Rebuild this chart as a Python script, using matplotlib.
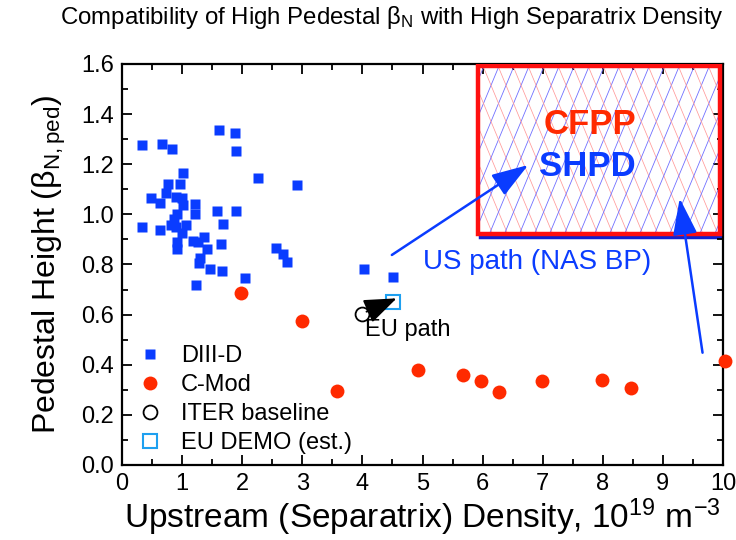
import numpy as np
import matplotlib.pyplot as plt
from matplotlib.patches import Rectangle

plt.rcParams['font.family'] = ['Liberation Sans', 'DejaVu Sans']
plt.rcParams['mathtext.fontset'] = 'custom'
plt.rcParams['mathtext.rm'] = 'Liberation Sans'
plt.rcParams['mathtext.it'] = 'Liberation Sans'
plt.rcParams['mathtext.default'] = 'regular'

# DIII-D data
d3d_x = [0.34, 0.67, 0.83, 1.61, 1.88, 1.89, 1.01, 2.26, 2.91, 0.77, 0.96, 0.74,
         0.48, 0.63, 0.89, 1.00, 1.02, 1.22, 1.21, 1.58, 1.89, 0.91, 0.87, 0.33,
         0.64, 0.82, 0.89, 1.07, 0.99, 1.68, 0.92, 0.92, 1.18, 1.26, 1.37, 1.41,
         1.64, 1.30, 1.28, 1.46, 1.66, 1.23, 2.04, 2.57, 2.68, 2.75, 4.02, 4.51]
d3d_y = [1.275, 1.28, 1.262, 1.338, 1.326, 1.254, 1.165, 1.146, 1.118, 1.121, 1.122, 1.087,
         1.067, 1.044, 1.071, 1.067, 1.037, 1.04, 1.0, 1.012, 1.012, 1.0, 0.982, 0.95,
         0.939, 0.958, 0.951, 0.959, 0.927, 0.962, 0.891, 0.863, 0.893, 0.889, 0.911, 0.861,
         0.883, 0.827, 0.807, 0.781, 0.774, 0.72, 0.747, 0.867, 0.843, 0.81, 0.781, 0.751]

# C-Mod data
cmod_x = [1.98, 3.0, 3.58, 4.92, 5.67, 5.98, 6.28, 6.99, 7.99, 8.47, 10.03]
cmod_y = [0.686, 0.575, 0.295, 0.379, 0.359, 0.336, 0.29, 0.336, 0.338, 0.309, 0.416]

iter_x, iter_y = [3.99], [0.601]
demo_x, demo_y = [4.51], [0.652]

# target region (CFPP / SHPD)
box_x0, box_x1 = 5.92, 9.95
box_y0, box_y1 = 0.92, 1.59

blue = '#0a3cff'
red = '#ff2a00'

fig = plt.figure(figsize=(7.36, 5.4), dpi=100)
ax = fig.add_axes([0.1658, 0.1389, 0.8165, 0.7426])

# box with shadow and hatching
shadow = Rectangle((box_x0 + 0.035, box_y0 - 0.01), box_x1 - box_x0, box_y1 - box_y0,
                   fill=False, edgecolor='#1020d0', lw=2.5, zorder=1)
ax.add_patch(shadow)
clip = Rectangle((box_x0, box_y0), box_x1 - box_x0, box_y1 - box_y0,
                 facecolor='white', edgecolor='none', zorder=1.5)
ax.add_patch(clip)
shift = 1.16
for off in np.arange(box_x0 - shift, box_x1 + 0.1, 0.25):
    l1, = ax.plot([off, off + shift], [box_y1, box_y0], color='#ff9a9a', lw=0.55, zorder=2)
    l1.set_clip_path(clip)
    l2, = ax.plot([off + 0.1, off + 0.1 + shift], [box_y0, box_y1], color='#7070ff', lw=0.6, zorder=2)
    l2.set_clip_path(clip)
ax.add_patch(Rectangle((box_x0, box_y0), box_x1 - box_x0, box_y1 - box_y0,
                       fill=False, edgecolor='#ff1010', lw=3.2, zorder=3))
ax.text(7.78, 1.36, 'CFPP', color=red, fontsize=25, fontweight='bold', ha='center', va='center', zorder=4)
ax.text(7.74, 1.19, 'SHPD', color=blue, fontsize=25, fontweight='bold', ha='center', va='center', zorder=4)

# markers
ax.plot(d3d_x, d3d_y, 's', color=blue, ms=7.5, mec='none', label='DIII-D', zorder=5)
ax.plot(cmod_x, cmod_y, 'o', color=red, ms=10, mec='none', label='C-Mod', zorder=5, clip_on=False)
ax.plot(iter_x, iter_y, 'o', mfc='none', mec='black', ms=10, mew=1.3, label='ITER baseline', zorder=5)
ax.plot(demo_x, demo_y, 's', mfc='none', mec='#1ea0f0', ms=10, mew=1.5, label='EU DEMO (est.)', zorder=5)

# arrows
ax.annotate('', xy=(6.76, 1.197), xytext=(4.49, 0.838),
            arrowprops=dict(arrowstyle='-|>,head_length=0.9,head_width=0.3', color=blue, lw=1.8,
                            mutation_scale=25, shrinkA=0, shrinkB=0), zorder=6)
ax.annotate('', xy=(9.28, 1.064), xytext=(9.66, 0.448),
            arrowprops=dict(arrowstyle='-|>,head_length=0.9,head_width=0.3', color=blue, lw=1.8,
                            mutation_scale=25, shrinkA=0, shrinkB=0), zorder=6, annotation_clip=False)
ax.annotate('', xy=(4.57, 0.665), xytext=(4.07, 0.612),
            arrowprops=dict(arrowstyle='-|>,head_length=1.0,head_width=0.38', color='black', lw=1.5,
                            mutation_scale=20, shrinkA=0, shrinkB=0), zorder=6)

ax.text(5.0, 0.81, 'US path (NAS BP)', color=blue, fontsize=20, ha='left', va='center')
ax.text(4.04, 0.537, 'EU path', color='black', fontsize=17, ha='left', va='center')

ax.set_xlim(0, 10)
ax.set_ylim(0, 1.6)
ax.set_xticks(np.arange(0, 11, 1))
ax.set_xticks(np.arange(0, 10.01, 0.5), minor=True)
ax.set_yticks(np.arange(0, 1.61, 0.2))
ax.set_yticks(np.arange(0, 1.61, 0.1), minor=True)
ax.yaxis.set_major_formatter(plt.FormatStrFormatter('%.1f'))
ax.tick_params(which='both', direction='in', top=True, right=True, width=1.3, labelsize=17)
ax.tick_params(which='major', length=7, pad=6)
ax.tick_params(which='minor', length=4)
for s in ax.spines.values():
    s.set_linewidth(1.6)

ax.set_xlabel('Upstream (Separatrix) Density, 10$^{19}$ m$^{-3}$', fontsize=24, labelpad=1)
ax.set_ylabel('Pedestal Height (β$_{N,ped}$)', fontsize=23, labelpad=9)
fig.text(0.532, 0.968, 'Compatibility of High Pedestal β$_{N}$ with High Separatrix Density',
         fontsize=17.3, ha='center', va='center')

ax.legend(loc='lower left', bbox_to_anchor=(0.0, -0.014), frameon=False, fontsize=17,
          handlelength=1.0, handletextpad=0.8, labelspacing=0.3, borderaxespad=0.3, numpoints=1)

fig.savefig('out.png', dpi=100)
